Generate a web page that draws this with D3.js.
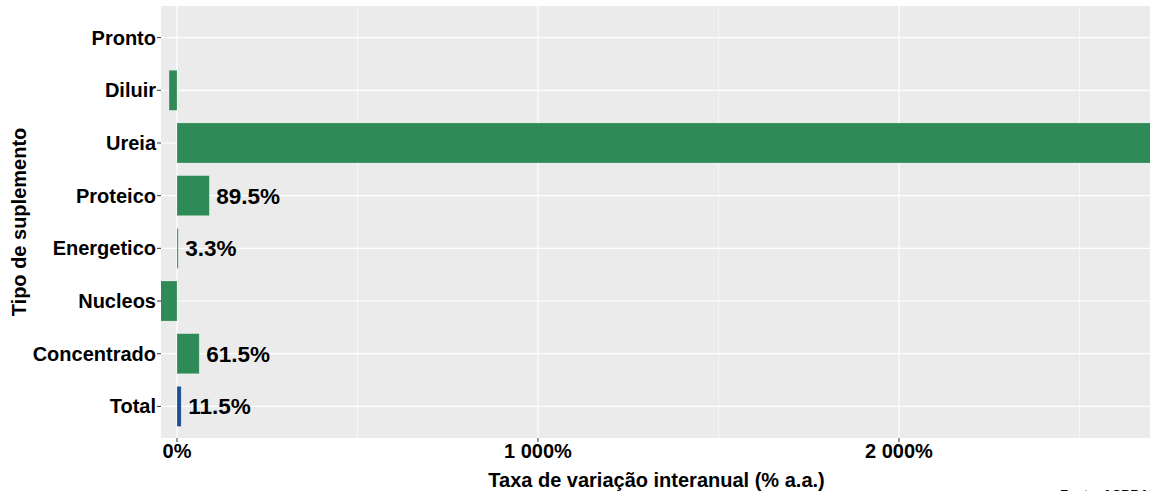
<!DOCTYPE html>
<html>
<head>
<meta charset="utf-8">
<script src="https://cdn.jsdelivr.net/npm/d3@7"></script>
<style>
  body { margin: 0; background: #fff; }
  text { font-family: "Liberation Sans", Arial, sans-serif; font-weight: bold; }
</style>
</head>
<body>
<div id="chart"></div>
<script>
// categories, top to bottom
const categories = ['Pronto', 'Diluir', 'Ureia', 'Proteico', 'Energetico', 'Nucleos', 'Concentrado', 'Total'];
// year-on-year change (% a.a.), null = no data
const values = [null, -22, 2900, 89.5, 3.3, -45, 61.5, 11.5];
// bar labels shown (negative bars have none; Ureia's falls outside the frame)
const labels = [null, null, null, '89.5%', '3.3%', null, '61.5%', '11.5%'];
const xTicks = [0, 1000, 2000];
const xMinor = [500, 1500, 2500];

const width = 1150;
const height = 491;
const panel = { left: 161, right: 1152, top: 6, bottom: 438 };

const svg = d3.select('#chart')
  .append('svg')
  .attr('width', width)
  .attr('height', height);

// x scale: 0% at ~177px, 1000% at ~538px
const x = d3.scaleLinear()
  .domain([-44.3, 2701])
  .range([panel.left, panel.right]);

// discrete y like ggplot: 0.6 units of expansion each side
const step = (panel.bottom - panel.top) / (categories.length + 0.2);
const y = d3.scalePoint()
  .domain(categories)
  .range([panel.top + 0.6 * step, panel.bottom - 0.6 * step]);
const barH = 0.76 * step;

// panel background
svg.append('rect')
  .attr('x', panel.left)
  .attr('y', panel.top)
  .attr('width', panel.right - panel.left)
  .attr('height', panel.bottom - panel.top)
  .attr('fill', '#EBEBEB');

svg.append('clipPath')
  .attr('id', 'panel-clip')
  .append('rect')
  .attr('x', panel.left)
  .attr('y', panel.top)
  .attr('width', panel.right - panel.left)
  .attr('height', panel.bottom - panel.top);

const grid = svg.append('g').attr('clip-path', 'url(#panel-clip)');

// minor vertical gridlines
grid.selectAll('.minor')
  .data(xMinor)
  .enter()
  .append('line')
  .attr('x1', (d) => x(d))
  .attr('x2', (d) => x(d))
  .attr('y1', panel.top)
  .attr('y2', panel.bottom)
  .attr('stroke', '#fff')
  .attr('stroke-width', 0.6);

// major vertical gridlines
grid.selectAll('.major-x')
  .data(xTicks)
  .enter()
  .append('line')
  .attr('x1', (d) => x(d))
  .attr('x2', (d) => x(d))
  .attr('y1', panel.top)
  .attr('y2', panel.bottom)
  .attr('stroke', '#fff')
  .attr('stroke-width', 1.2);

// horizontal gridlines
grid.selectAll('.major-y')
  .data(categories)
  .enter()
  .append('line')
  .attr('x1', panel.left)
  .attr('x2', panel.right)
  .attr('y1', (d) => y(d))
  .attr('y2', (d) => y(d))
  .attr('stroke', '#fff')
  .attr('stroke-width', 1.2);

const rows = categories.map((cat, i) => ({ cat, value: values[i], label: labels[i] }));

// bars
grid.selectAll('.bar')
  .data(rows.filter((d) => d.value !== null))
  .enter()
  .append('rect')
  .attr('class', 'bar')
  .attr('x', (d) => x(Math.min(0, d.value)))
  .attr('width', (d) => Math.abs(x(d.value) - x(0)))
  .attr('y', (d) => y(d.cat) - barH / 2)
  .attr('height', barH)
  .attr('fill', (d) => (d.cat === 'Total' ? '#1C5191' : '#2E8B57'))
  .attr('stroke', 'rgba(255,255,255,0.35)')
  .attr('stroke-width', 0.6);

// value labels
grid.selectAll('.label')
  .data(rows.filter((d) => d.label !== null))
  .enter()
  .append('text')
  .attr('x', (d) => x(d.value) + 7)
  .attr('y', (d) => y(d.cat))
  .attr('dy', '0.36em')
  .attr('font-size', 22.5)
  .attr('fill', '#000')
  .text((d) => d.label);

// y axis ticks and labels
const yAxis = svg.append('g');
yAxis.selectAll('line')
  .data(categories)
  .enter()
  .append('line')
  .attr('x1', panel.left - 4)
  .attr('x2', panel.left)
  .attr('y1', (d) => y(d))
  .attr('y2', (d) => y(d))
  .attr('stroke', '#333')
  .attr('stroke-width', 1);
yAxis.selectAll('text')
  .data(categories)
  .enter()
  .append('text')
  .attr('x', panel.left - 5)
  .attr('y', (d) => y(d))
  .attr('dy', '0.35em')
  .attr('text-anchor', 'end')
  .attr('font-size', 20)
  .attr('fill', '#000')
  .text((d) => d);

// x axis ticks and labels
const fmt = (d) => d3.format(',')(d).replace(/,/g, ' ') + '%';
const xAxis = svg.append('g');
xAxis.selectAll('line')
  .data(xTicks)
  .enter()
  .append('line')
  .attr('x1', (d) => x(d))
  .attr('x2', (d) => x(d))
  .attr('y1', panel.bottom)
  .attr('y2', panel.bottom + 4)
  .attr('stroke', '#333')
  .attr('stroke-width', 1);
xAxis.selectAll('text')
  .data(xTicks)
  .enter()
  .append('text')
  .attr('x', (d) => x(d))
  .attr('y', 458)
  .attr('text-anchor', 'middle')
  .attr('font-size', 20)
  .attr('fill', '#000')
  .text(fmt);

// axis titles
svg.append('text')
  .attr('x', (panel.left + panel.right) / 2)
  .attr('y', 487)
  .attr('text-anchor', 'middle')
  .attr('font-size', 20)
  .attr('fill', '#000')
  .text('Taxa de variação interanual (% a.a.)');

svg.append('text')
  .attr('transform', `translate(26,${(panel.top + panel.bottom) / 2}) rotate(-90)`)
  .attr('text-anchor', 'middle')
  .attr('font-size', 20)
  .attr('fill', '#000')
  .text('Tipo de suplemento');

// source note, cut by the frame as in the original
svg.append('text')
  .attr('x', 1060)
  .attr('y', 499)
  .attr('font-size', 13)
  .attr('fill', '#000')
  .text('Fonte: ASBRAM');
</script>
</body>
</html>
